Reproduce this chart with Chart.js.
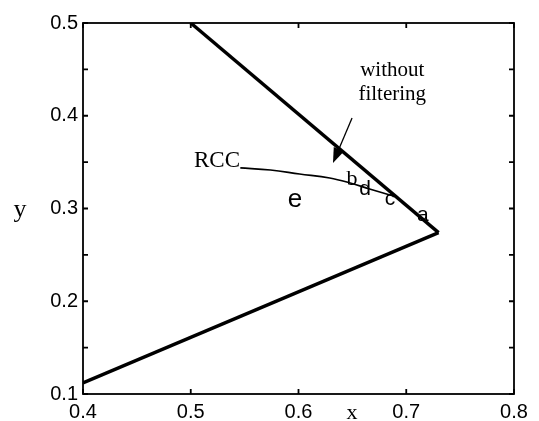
<!DOCTYPE html>
<html>
<head>
<meta charset="utf-8">
<script src="https://cdn.jsdelivr.net/npm/chart.js@4"></script>
<style>
  body { margin: 0; background: #fff; }
  #wrap { width: 539px; height: 421px; }
</style>
</head>
<body>
<div id="wrap"><canvas id="chart" width="539" height="421"></canvas></div>
<script>
// upper boundary line (thick)
const upperX = [0.5, 0.73];
const upperY = [0.5, 0.274];
// lower boundary line (thick)
const lowerX = [0.4, 0.73];
const lowerY = [0.112, 0.274];
// RCC curve
const rccX = [0.546, 0.574, 0.601, 0.629, 0.648, 0.666, 0.688];
const rccY = [0.3437, 0.3415, 0.3372, 0.3329, 0.3275, 0.321, 0.3135];

const xTicks = [0.4, 0.5, 0.6, 0.7, 0.8];
const yTicks = [0.1, 0.15, 0.2, 0.25, 0.3, 0.35, 0.4, 0.45, 0.5];

// text labels placed at data coordinates (baseline positions)
const labelText = ['without', 'filtering', 'RCC', 'e', 'b', 'd', 'c', 'a'];
const labelX = [0.687, 0.687, 0.5457, 0.5968, 0.6497, 0.6617, 0.6849, 0.7155];
const labelY = [0.4429, 0.417, 0.3447, 0.3016, 0.3253, 0.3146, 0.3038, 0.2865];
const labelFont = ['21px "Liberation Serif"', '21px "Liberation Serif"', '23px "Liberation Serif"',
  '26px "Liberation Sans"', '22px "Liberation Serif"', '21px "Liberation Sans"', '21px "Liberation Sans"', '21px "Liberation Sans"'];
const labelAlign = ['center', 'center', 'right', 'center', 'center', 'center', 'center', 'center'];

// arrow pointing at the unfiltered line
const arrowFrom = [0.6497, 0.3976];
const arrowTo = [0.632, 0.349];

const pts = (xs, ys) => xs.map((x, i) => ({x: x, y: ys[i]}));

const overlay = {
  id: 'overlay',
  afterDraw(chart) {
    const ctx = chart.ctx;
    const a = chart.chartArea;
    const xs = chart.scales.x, ys = chart.scales.y;
    ctx.save();
    ctx.strokeStyle = '#000';
    ctx.lineWidth = 1.8;
    ctx.strokeRect(a.left, a.top, a.right - a.left, a.bottom - a.top);
    ctx.beginPath();
    yTicks.forEach(v => {
      const py = ys.getPixelForValue(v);
      ctx.moveTo(a.left, py); ctx.lineTo(a.left + 5, py);
      ctx.moveTo(a.right, py); ctx.lineTo(a.right - 5, py);
    });
    xTicks.forEach(v => {
      const px = xs.getPixelForValue(v);
      ctx.moveTo(px, a.bottom); ctx.lineTo(px, a.bottom - 5);
      ctx.moveTo(px, a.top); ctx.lineTo(px, a.top + 5);
    });
    ctx.stroke();

    // texts
    ctx.fillStyle = '#000';
    ctx.textBaseline = 'alphabetic';
    labelText.forEach((t, i) => {
      ctx.font = labelFont[i];
      ctx.textAlign = labelAlign[i];
      ctx.fillText(t, xs.getPixelForValue(labelX[i]), ys.getPixelForValue(labelY[i]));
    });

    // axis titles
    ctx.textBaseline = 'middle';
    ctx.textAlign = 'center';
    ctx.font = '26px "Liberation Serif"';
    ctx.fillText('y', 20, 210);
    ctx.font = '22px "Liberation Serif"';
    ctx.fillText('x', 352, 413);

    // arrow
    const x1 = xs.getPixelForValue(arrowFrom[0]), y1 = ys.getPixelForValue(arrowFrom[1]);
    const x2 = xs.getPixelForValue(arrowTo[0]), y2 = ys.getPixelForValue(arrowTo[1]);
    const ang = Math.atan2(y2 - y1, x2 - x1);
    const head = 15, half = 5.5;
    const bx = x2 - head * Math.cos(ang), by = y2 - head * Math.sin(ang);
    ctx.lineWidth = 1.3;
    ctx.beginPath();
    ctx.moveTo(x1, y1); ctx.lineTo(bx, by);
    ctx.stroke();
    ctx.beginPath();
    ctx.moveTo(x2, y2);
    ctx.lineTo(bx + half * Math.sin(ang), by - half * Math.cos(ang));
    ctx.lineTo(bx - half * Math.sin(ang), by + half * Math.cos(ang));
    ctx.closePath();
    ctx.fill();
    ctx.restore();
  }
};

new Chart(document.getElementById('chart'), {
  type: 'scatter',
  data: {
    datasets: [
      {data: pts(upperX, upperY), showLine: true, borderColor: '#000', borderWidth: 3.4, pointRadius: 0},
      {data: pts(lowerX, lowerY), showLine: true, borderColor: '#000', borderWidth: 3.4, pointRadius: 0},
      {data: pts(rccX, rccY), showLine: true, borderColor: '#000', borderWidth: 1.7, pointRadius: 0, tension: 0.4}
    ]
  },
  options: {
    responsive: false,
    animation: false,
    layout: {padding: {left: 0, top: 23, right: 25, bottom: 0}},
    plugins: {legend: {display: false}, tooltip: {enabled: false}},
    scales: {
      x: {
        type: 'linear', min: 0.4, max: 0.8,
        afterBuildTicks: s => { s.ticks = xTicks.map(v => ({value: v})); },
        afterFit: s => { s.height = 27; },
        grid: {display: false, drawTicks: false},
        border: {display: false},
        ticks: {
          padding: 6, color: '#000',
          font: {family: 'Liberation Sans', size: 20},
          callback: v => v.toFixed(1)
        }
      },
      y: {
        type: 'linear', min: 0.1, max: 0.5,
        afterBuildTicks: s => { s.ticks = yTicks.map(v => ({value: v})); },
        afterFit: s => { s.width = 83; },
        grid: {display: false, drawTicks: false},
        border: {display: false},
        ticks: {
          padding: 5, color: '#000',
          font: {family: 'Liberation Sans', size: 20},
          callback: v => (Math.round(v * 100) % 10 === 0 ? v.toFixed(1) : '')
        }
      }
    }
  },
  plugins: [overlay]
});
</script>
</body>
</html>
